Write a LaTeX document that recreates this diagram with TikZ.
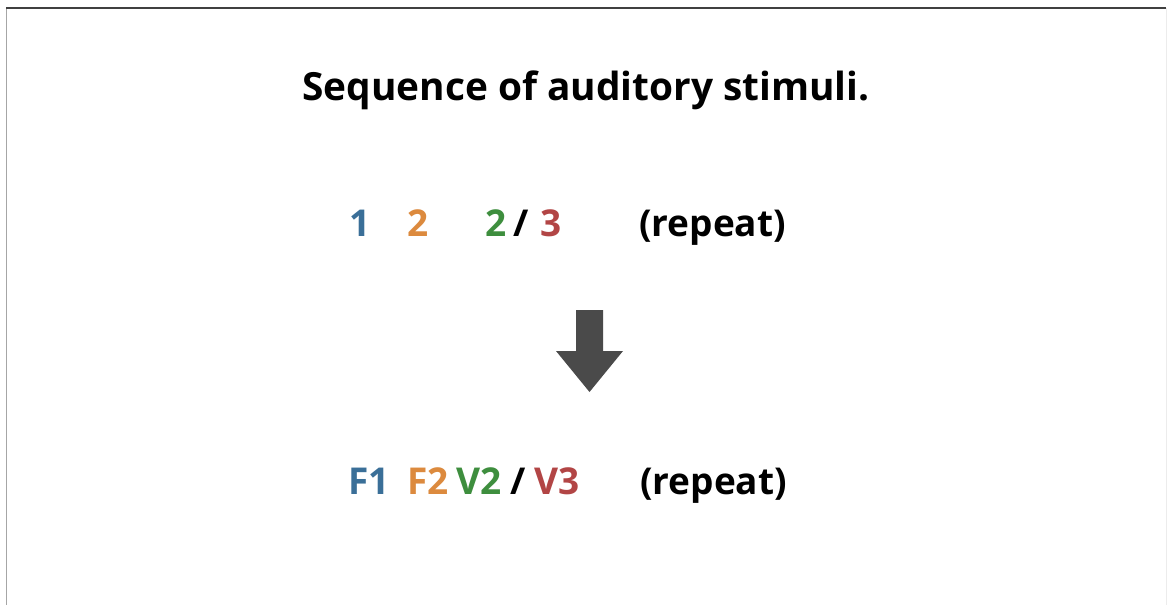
\documentclass[tikz,border=0pt]{standalone}
\usepackage{fontspec}
\setmainfont{Open Sans}
\definecolor{cblue}{HTML}{3A6F98}
\definecolor{corange}{HTML}{DC8A3E}
\definecolor{cgreen}{HTML}{3E8E3E}
\definecolor{cred}{HTML}{B24545}
\definecolor{arrowgray}{HTML}{4A4A4A}
\begin{document}
\begin{tikzpicture}[x=1pt,y=-1pt,
  lbl/.style={inner sep=0pt,anchor=base west,font=\fontsize{37}{37}\selectfont\bfseries},
  ttl/.style={inner sep=0pt,anchor=base,font=\fontsize{38.8}{38.8}\selectfont\bfseries}]
\useasboundingbox (0,0) rectangle (1172,605);
\fill[white] (0,0) rectangle (1172,605);
\draw[gray!70,line width=1.5pt] (6.5,8) -- (6.5,605);
\draw[black!75,line width=1.2pt] (6,8) -- (1166,8);
\draw[gray!15,line width=1pt] (1166,8) -- (1166,605);
\node[ttl] (title) at (586,100) {Sequence of auditory stimuli.};
% row 1
\node[lbl,text=cblue] (a1) at (349,236) {1};
\node[lbl,text=corange] (a2) at (407,236) {2};
\node[lbl,text=cgreen] (a3) at (485,236) {2};
\node[lbl,text=black] (as) at (513,236) {/};
\node[lbl,text=cred] (a4) at (540,236) {3};
\node[lbl,text=black] (ar) at (639,236) {(repeat)};
% arrow
\fill[arrowgray] (576,310) -- (603,310) -- (603,351) -- (623,351) -- (589.5,392) -- (556,351) -- (576,351) -- cycle;
% row 2
\node[lbl,text=cblue] (b1) at (348,494) {F1};
\node[lbl,text=corange] (b2) at (407,494) {F2};
\node[lbl,text=cgreen] (b3) at (456,494) {V2};
\node[lbl,text=black] (bs) at (510,494) {/};
\node[lbl,text=cred] (b4) at (534,494) {V3};
\node[lbl,text=black] (br) at (640,494) {(repeat)};
\end{tikzpicture}
\end{document}
